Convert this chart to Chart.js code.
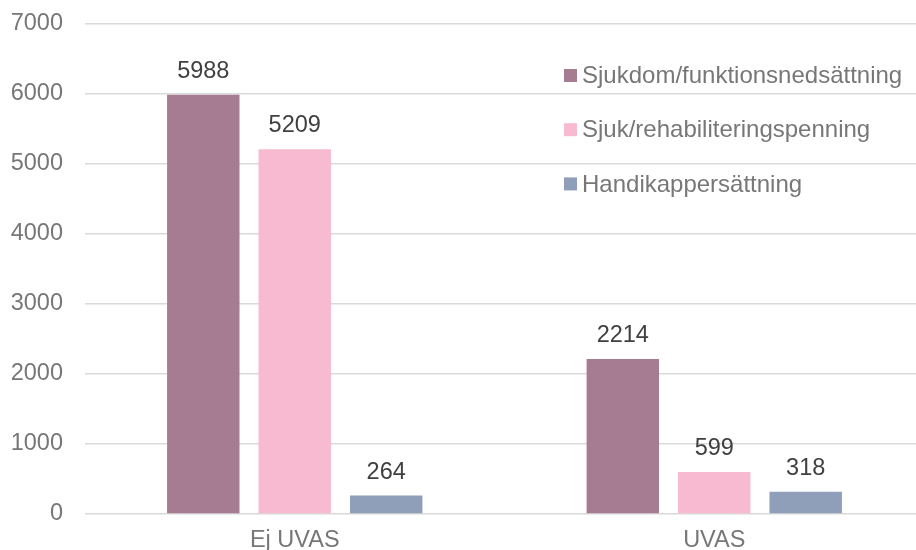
<!DOCTYPE html>
<html>
<head>
<meta charset="utf-8">
<script src="https://cdn.jsdelivr.net/npm/chart.js@4/dist/chart.umd.min.js"></script>
<style>
  html, body { margin: 0; background: #fff; overflow: hidden; }
  #clip { width: 916px; height: 550px; overflow: hidden; }
  #wrap { width: 924px; height: 550px; }
</style>
</head>
<body>
<div id="clip"><div id="wrap"><canvas id="chart"></canvas></div></div>
<script>
// data
var categories = ["Ej UVAS", "UVAS"];
var seriesNames = ["Sjukdom/funktionsnedsättning", "Sjuk/rehabiliteringspenning", "Handikappersättning"];
var sjukdom = [5988, 2214];
var sjukpenning = [5209, 599];
var handikapp = [264, 318];
var yTicks = [0, 1000, 2000, 3000, 4000, 5000, 6000, 7000];

var colors = ["#A67C93", "#F7BAD0", "#8F9FBA"];
var fontFam = "'Liberation Sans', Arial, sans-serif";
var textGray = "#777777";

// värden ovanför staplarna
var valueLabels = {
  id: "valueLabels",
  afterDatasetsDraw: function (chart) {
    var ctx = chart.ctx;
    ctx.save();
    ctx.font = "23.5px " + fontFam;
    ctx.fillStyle = "#404040";
    ctx.textAlign = "center";
    ctx.textBaseline = "alphabetic";
    chart.data.datasets.forEach(function (ds, i) {
      chart.getDatasetMeta(i).data.forEach(function (bar, j) {
        ctx.fillText(ds.data[j], bar.x, bar.y - 17);
      });
    });
    ctx.restore();
  }
};

// legend inne i diagrammet
var innerLegend = {
  id: "innerLegend",
  afterDraw: function (chart) {
    var ctx = chart.ctx;
    ctx.save();
    ctx.font = "24px " + fontFam;
    ctx.textBaseline = "middle";
    chart.data.datasets.forEach(function (ds, i) {
      var y = 75.5 + i * 54.2;
      ctx.fillStyle = ds.backgroundColor;
      ctx.fillRect(564, y - 6.5, 13, 13);
      ctx.fillStyle = textGray;
      ctx.fillText(ds.label, 582, y + 1);
    });
    ctx.restore();
  }
};

new Chart(document.getElementById("chart"), {
  type: "bar",
  data: {
    labels: categories,
    datasets: [
      { label: seriesNames[0], data: sjukdom, backgroundColor: colors[0] },
      { label: seriesNames[1], data: sjukpenning, backgroundColor: colors[1] },
      { label: seriesNames[2], data: handikapp, backgroundColor: colors[2] }
    ]
  },
  options: {
    responsive: true,
    maintainAspectRatio: false,
    animation: false,
    layout: { padding: { left: 0, right: 0, top: 24, bottom: 0 } },
    datasets: { bar: { barPercentage: 0.792, categoryPercentage: 0.654 } },
    plugins: { legend: { display: false }, tooltip: { enabled: false } },
    scales: {
      x: {
        grid: { display: false, drawTicks: false },
        border: { display: false },
        ticks: { color: textGray, font: { size: 23.5, family: fontFam }, padding: 12 },
        afterFit: function (s) { s.height = 36; s.paddingLeft = 0; s.paddingRight = 0; }
      },
      y: {
        min: 0,
        max: 7000,
        afterBuildTicks: function (s) { s.ticks = yTicks.map(function (v) { return { value: v }; }); },
        grid: { color: "#D9D9D9", lineWidth: 1.5, drawTicks: false },
        border: { display: false },
        ticks: {
          color: textGray,
          font: { size: 23.5, family: fontFam },
          padding: 22,
          callback: function (v) { return String(v); }
        },
        afterFit: function (s) { s.width = 85; s.paddingTop = 0; s.paddingBottom = 0; }
      }
    }
  },
  plugins: [valueLabels, innerLegend]
});
</script>
</body>
</html>
